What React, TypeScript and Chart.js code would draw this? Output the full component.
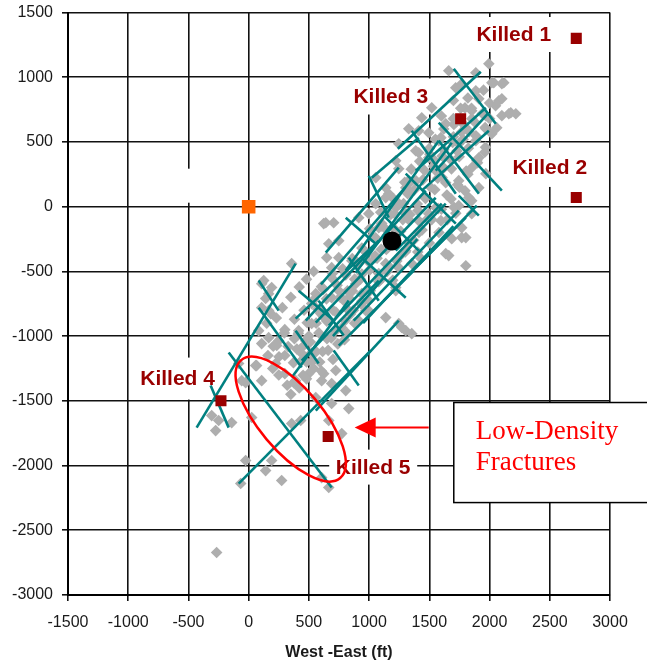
import React, { useEffect, useRef } from "react";
import { Chart, registerables } from "chart.js";

Chart.register(...registerables);

// Axis ranges (ft)
const X_MIN = -1500;
const X_MAX = 3000;
const Y_MIN = -3000;
const Y_MAX = 1500;
const TICK_STEP = 500;

// Microseismic event locations [West-East, South-North] (ft)
const EVENTS: [number, number][] = [
  [623, -131], [357, -440], [125, -571], [191, -625], [141, -710], [166, -803], [648, -394], [523, -749], [598, -826],
  [1994, 1104], [1661, 1050], [1886, 1035], [2019, 958], [2102, 950], [2077, 818], [2176, 726], [2218, 718], [2102, 703],
  [1886, 896], [1769, 950], [1969, 602], [2019, 564], [1803, 610], [1636, 641], [1495, 571], [1412, 587], [1329, 602],
  [1246, 486], [1221, 355], [1412, 417], [1495, 378], [1578, 510], [1744, 486], [1886, 510], [1911, 378], [1852, 301],
  [1969, 255], [1744, 201], [1636, 185], [1553, 278], [1911, 147], [1828, 70], [1744, 8], [1852, -54], [1769, -162],
  [1803, -239], [1686, -247], [1661, -378], [1803, -456], [1495, -54], [1412, -108], [1553, -8], [1304, -54], [1163, 100],
  [1055, 23], [1138, 147], [1304, 147], [1329, 201], [1246, 293], [640, -124], [706, -124], [748, -263], [665, -286],
  [914, -85], [997, -54], [1080, -162], [1271, -363], [1354, -440], [1246, -471], [1138, -440], [1221, -625], [1080, -548],
  [856, -417], [806, -517], [939, -672], [997, -726], [748, -649], [914, -880], [831, -803], [1138, -857], [1246, -903],
  [1304, -958], [108, -1058], [233, -1073], [58, -1228], [108, -1344], [-25, -1359], [374, -1359], [440, -1189],
  [557, -1475], [623, -1290], [498, -1290], [25, -1629], [-274, -1730], [-249, -1652], [-141, -1668], [357, -1676],
  [432, -1652], [-25, -1961], [141, -2039], [-66, -2139], [274, -2116], [191, -1961], [-266, -2672], [-83, -1212],
  [-58, -1344], [66, -1228], [390, -1344], [665, -1652], [773, -1753], [831, -1560], [689, -1521], [806, -1421],
  [689, -1367], [-307, -1614], [606, -2093], [665, -2170], [224, -1212], [606, -1344], [723, -1266],
  [108, -595], [166, -672], [108, -780], [183, -826], [557, -672], [689, -471], [748, -394], [606, -803], [523, -903],
  [415, -958], [473, -1035], [972, -803], [1271, -934], [1354, -981], [1221, -649], [1080, -517], [889, -595],
  [689, -703], [831, -703], [249, -1035], [166, -1012], [83, -958],
  [1055, 224], [1138, 70], [1769, -239], [1636, -363], [1852, 46], [1387, 432], [1329, 178], [1221, -8], [1105, -131],
  [1055, -394], [914, -440], [1304, -340],
  [2035, 958], [2118, 958], [2102, 834], [2160, 718], [2060, 610], [1520, 764], [1437, 687], [1719, 919], [1911, 834],
  [1852, 741], [1969, 703],
  [400, -1100], [500, -1000], [560, -900], [620, -850], [700, -800], [760, -700], [820, -650], [880, -560], [940, -520],
  [1000, -430], [1050, -380], [1100, -330], [1150, -220], [1220, -180], [1280, -100], [1340, -60], [1400, 20], [1460, 80],
  [1510, 150], [1570, 220], [1620, 300], [1680, 360], [1730, 430], [1780, 520], [1830, 580], [1880, 650], [1940, 720],
  [2000, 800], [480, -1200], [560, -1120], [650, -1020], [720, -960], [800, -880], [870, -800], [940, -730], [1010, -650],
  [1080, -580], [1150, -500], [1230, -420], [1300, -350], [1370, -260], [1440, -180], [1520, -100], [1600, -20],
  [1680, 60], [1750, 150], [1820, 250], [1900, 340], [1960, 420], [300, -950], [380, -870], [460, -800], [540, -720],
  [620, -640], [700, -560], [780, -480], [860, -400], [940, -320], [1020, -230], [1100, -150], [1180, -60], [1250, 20],
  [1320, 100], [1390, 200], [1460, 280], [1540, 360], [1620, 440], [1700, 540], [1780, 640], [1850, 760],
  // dense core of the event cloud
  [300, -1290], [372, -1205], [445, -1138], [512, -1046], [583, -975], [648, -884], [724, -815], [787, -722],
  [862, -651], [928, -560], [1004, -490], [1066, -398], [1143, -330], [1262, -190], [1326, -98], [1405, -30],
  [1468, 64], [1545, 131], [1606, 225], [1684, 292], [1748, 386], [1824, 452], [1887, 548], [1963, 612],
  [252, -1160], [328, -1081], [413, -978], [486, -897], [574, -793], [646, -712], [734, -608], [806, -528],
  [893, -424], [966, -345], [1054, -240], [1126, -162], [1214, -56], [1286, 24], [1374, 128], [1446, 207],
  [1534, 312], [1606, 391], [1694, 496], [1766, 575], [1853, 680],
  [452, -1302], [526, -1198], [614, -1119], [686, -1014], [774, -935], [846, -830], [934, -751], [1006, -646],
  [1094, -567], [1166, -462], [1254, -383], [1326, -277], [1414, -199], [1486, -94], [1574, -15], [1646, 90],
  [1734, 169], [1806, 275], [1894, 354], [1966, 459],
  [204, -1078], [296, -975], [604, -618], [696, -515], [1004, -170], [1096, -43], [1204, 60], [1296, 188],
  [1504, 405], [1596, 533], [1704, 635], [1796, 763],
  [604, -1270], [796, -1028], [1004, -810], [1196, -568], [1404, -350], [1596, -108], [1704, -5], [1796, 122],
  [350, -1450], [420, -1400], [480, -1330], [540, -1250], [300, -1150], [380, -1020], [450, -1080], [520, -1130],
  [590, -1200], [660, -1110], [740, -1060], [820, -980], [880, -900], [700, -1180], [250, -1300], [320, -1380],
  [160, -1150], [200, -1250], [150, -900], [230, -860], [280, -780], [350, -700], [420, -620], [480, -560], [540, -500],
  [1550, 520], [1620, 600], [1700, 680], [1760, 760], [1820, 840], [1700, 820], [1600, 700], [1950, 900], [2000, 680],
  [2050, 780], [1500, 450], [1420, 350], [1350, 290], [1650, -100], [1720, -50], [1580, -200], [1500, -280], [1430, -400],
];

// Interpreted fractures parallel to the main trend [x1, y1, x2, y2] (ft)
const FRACTURES_NE: [number, number, number, number][] = [
  [-432, -1707, 390, -440],
  [-83, -2139, 1013, -1112],
  [357, -1320, 831, -726],
  [440, -1189, 1080, -571],
  [557, -1575, 1246, -880],
  [390, -865, 1080, -263],
  [474, -880, 1470, 124],
  [557, -896, 1553, 69],
  [665, -919, 1636, 23],
  [640, -355, 1246, 301],
  [806, -494, 1578, 510],
  [889, -510, 1686, 494],
  [1022, 224, 1412, 533],
  [1238, 448, 1927, 1042],
  [1387, 278, 1969, 764],
  [1437, 124, 1994, 587],
  [1221, -340, 1603, 23],
  [1387, -471, 1803, -85],
  [748, -1073, 1371, -494],
  [872, -880, 1744, -31],
  [1121, -726, 1894, 8],
  [1553, 278, 1994, 726],
  [700, -1000, 1400, -250],
  [950, -900, 1700, -150],
  [600, -600, 1300, 150],
];

// Interpreted cross-trend fractures [x1, y1, x2, y2] (ft)
const FRACTURES_CROSS: [number, number, number, number][] = [
  [-166, -1127, 689, -2170],
  [-316, -1382, -166, -1707],
  [83, -571, 249, -803],
  [83, -780, 440, -1243],
  [390, -958, 581, -1212],
  [831, -394, 1080, -726],
  [939, -394, 1304, -703],
  [806, -85, 1055, -286],
  [997, 239, 1163, -85],
  [1304, 255, 1720, -131],
  [1578, 510, 1911, 100],
  [1703, 1066, 2052, 641],
  [1578, 649, 2102, 124],
  [1354, 587, 1720, 100],
  [706, -1112, 914, -1382],
  [581, -726, 789, -996],
  [1121, -69, 1412, -340],
  [415, -649, 706, -880],
  [1744, 85, 1911, -69],
];

// Offset wells that were killed
const KILLED_NAMES = ["Killed 1", "Killed 2", "Killed 3", "Killed 4", "Killed 5"];
const KILLED_X = [2720, 2720, 1760, -230, 660];
const KILLED_Y = [1300, 70, 680, -1500, -1775];

// Treatment well and perforation point
const TREATMENT_WELL: [number, number] = [0, 0];
const PERF_POINT: [number, number] = [1190, -265];

const CALLOUT_LINES = ["Low-Density", "Fractures"];
const X_TITLE = "West -East (ft)";

// ---- annotation layout (data anchors + pixel styling) ----
const LABEL_ANCHORS: { text: string; x: number; y: number; w: number; h: number }[] = [
  { text: KILLED_NAMES[0], x: 2201, y: 1330, w: 96, h: 35 },
  { text: KILLED_NAMES[1], x: 2500, y: 303, w: 108, h: 39 },
  { text: KILLED_NAMES[2], x: 1180, y: 851, w: 108, h: 36 },
  { text: KILLED_NAMES[3], x: -590, y: -1328, w: 92, h: 42 },
  { text: KILLED_NAMES[4], x: 1034, y: -2012, w: 88, h: 35 },
  { text: "", x: -503, y: 162, w: 13, h: 34 },
];

const annotationPlugin = {
  id: "fractureAnnotations",
  beforeDatasetsDraw(chart: any) {
    const { ctx, scales } = chart;
    const xs = scales.x;
    const ys = scales.y;
    ctx.save();
    ctx.font = 'bold 21px "Liberation Sans", Arial, sans-serif';
    ctx.textAlign = "center";
    ctx.textBaseline = "middle";
    for (const a of LABEL_ANCHORS) {
      const px = xs.getPixelForValue(a.x);
      const py = ys.getPixelForValue(a.y);
      ctx.fillStyle = "#ffffff";
      ctx.fillRect(px - a.w / 2, py - a.h / 2, a.w, a.h);
      if (a.text) {
        ctx.fillStyle = "#990000";
        ctx.fillText(a.text, px, py + 1);
      }
    }
    ctx.restore();
  },
  afterDatasetsDraw(chart: any) {
    const { ctx, scales } = chart;
    const xs = scales.x;
    const ys = scales.y;
    ctx.save();

    // low-density zone outline
    const ecx = xs.getPixelForValue(349);
    const ecy = ys.getPixelForValue(-1641);
    ctx.beginPath();
    ctx.ellipse(ecx, ecy, 77, 31.5, (50 * Math.PI) / 180, 0, Math.PI * 2);
    ctx.strokeStyle = "#ff0000";
    ctx.lineWidth = 2.5;
    ctx.stroke();

    // arrow pointing at the zone
    const tailX = xs.getPixelForValue(1495);
    const tipX = xs.getPixelForValue(880);
    const ay = ys.getPixelForValue(-1706);
    ctx.beginPath();
    ctx.moveTo(tailX, ay);
    ctx.lineTo(tipX + 18, ay);
    ctx.strokeStyle = "#ff0000";
    ctx.lineWidth = 2;
    ctx.stroke();
    ctx.beginPath();
    ctx.moveTo(tipX, ay);
    ctx.lineTo(tipX + 21, ay - 10);
    ctx.lineTo(tipX + 21, ay + 10);
    ctx.closePath();
    ctx.fillStyle = "#ff0000";
    ctx.fill();

    // callout box
    const bx = xs.getPixelForValue(1703);
    const by = ys.getPixelForValue(-1513);
    const bb = ys.getPixelForValue(-2286);
    ctx.fillStyle = "#ffffff";
    ctx.fillRect(bx, by, 300, bb - by);
    ctx.strokeStyle = "#000000";
    ctx.lineWidth = 1.5;
    ctx.strokeRect(bx, by, 300, bb - by);
    ctx.fillStyle = "#ff0000";
    ctx.font = '27px "Liberation Serif", "Times New Roman", serif';
    ctx.textAlign = "left";
    ctx.textBaseline = "alphabetic";
    ctx.fillText(CALLOUT_LINES[0], bx + 22, by + 36);
    ctx.fillText(CALLOUT_LINES[1], bx + 22, by + 67);

    ctx.restore();
  },
};

export default function App() {
  const canvasRef = useRef<HTMLCanvasElement | null>(null);

  useEffect(() => {
    const canvas = canvasRef.current;
    if (!canvas) return;

    const fractureSets = [...FRACTURES_NE, ...FRACTURES_CROSS].map((s) => ({
      type: "scatter" as const,
      data: [
        { x: s[0], y: s[1] },
        { x: s[2], y: s[3] },
      ],
      showLine: true,
      borderColor: "#008080",
      borderWidth: 2.6,
      pointRadius: 0,
      fill: false,
      order: 3,
    }));

    const tickFont = { family: '"Liberation Sans", Arial, sans-serif', size: 16 };

    const chart = new Chart(canvas, {
      type: "scatter",
      data: {
        datasets: [
          {
            data: [{ x: PERF_POINT[0], y: PERF_POINT[1] }],
            pointStyle: "circle",
            pointRadius: 9.5,
            backgroundColor: "#000000",
            borderWidth: 0,
            order: 0,
          },
          {
            data: [{ x: TREATMENT_WELL[0], y: TREATMENT_WELL[1] }],
            pointStyle: "rect",
            pointRadius: 9.6,
            backgroundColor: "#ff6600",
            borderWidth: 0,
            order: 1,
          },
          {
            data: KILLED_X.map((x, i) => ({ x, y: KILLED_Y[i] })),
            pointStyle: "rect",
            pointRadius: 7.8,
            backgroundColor: "#990000",
            borderWidth: 0,
            order: 2,
          },
          ...fractureSets,
          {
            data: EVENTS.map(([x, y]) => ({ x, y })),
            pointStyle: "rectRot",
            pointRadius: 5.8,
            backgroundColor: "#aeaeae",
            borderWidth: 0,
            order: 4,
          },
        ] as any,
      },
      options: {
        animation: false,
        responsive: false,
        devicePixelRatio: 1,
        events: [],
        layout: { padding: { top: 12.5, right: 37, bottom: 0, left: 0 } },
        plugins: {
          legend: { display: false },
          tooltip: { enabled: false },
        },
        scales: {
          x: {
            type: "linear",
            position: "bottom",
            min: X_MIN,
            max: X_MAX,
            afterFit: (s: any) => {
              s.height = 67;
              s.paddingLeft = 0;
              s.paddingRight = 0;
            },
            ticks: {
              stepSize: TICK_STEP,
              color: "#1a1a1a",
              font: tickFont,
              padding: 12,
              maxRotation: 0,
              callback: (v: any) => String(v),
            },
            grid: { color: "#111111", lineWidth: 1.6, tickLength: 6 },
            border: { display: true, color: "#000000", width: 2 },
            title: {
              display: true,
              text: X_TITLE,
              color: "#1a1a1a",
              font: { family: '"Liberation Sans", Arial, sans-serif', size: 16, weight: "bold" },
              padding: { top: 4, bottom: 0 },
            },
          },
          y: {
            type: "linear",
            position: "left",
            min: Y_MIN,
            max: Y_MAX,
            afterFit: (s: any) => {
              s.width = 68;
              s.paddingTop = 0;
              s.paddingBottom = 0;
            },
            ticks: {
              stepSize: TICK_STEP,
              color: "#1a1a1a",
              font: tickFont,
              padding: 9,
              callback: (v: any) => String(v),
            },
            grid: { color: "#111111", lineWidth: 1.6, tickLength: 6 },
            border: { display: true, color: "#000000", width: 2 },
          },
        },
      } as any,
      plugins: [annotationPlugin],
    });

    return () => {
      chart.destroy();
    };
  }, []);

  return (
    <div style={{ position: "absolute", left: 0, top: 0, width: 647, height: 662, background: "#ffffff" }}>
      <canvas ref={canvasRef} width={647} height={662} style={{ display: "block" }} />
    </div>
  );
}
